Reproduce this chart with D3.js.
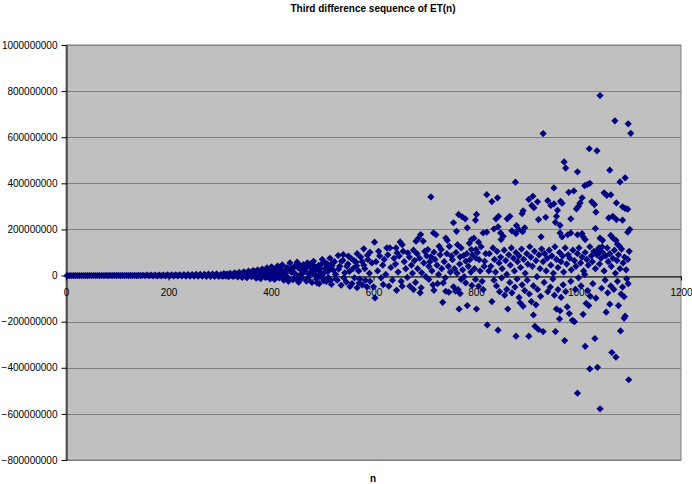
<!DOCTYPE html>
<html>
<head>
<meta charset="utf-8">
<script src="https://cdn.jsdelivr.net/npm/d3@7"></script>
<style>
  body { margin: 0; background: #fff; }
  text { font-family: "Liberation Sans", Arial, sans-serif; }
</style>
</head>
<body>
<script>
// values are in millions
const lowBand = [
  [2,0],[6,0],[10,0.1],[14,0],[18,-0.1],[22,0.1],[26,0],[30,0.1],[34,-0.1],[38,0.1],[42,0],[46,0.2],
  [50,-0.1],[54,0.2],[58,-0.1],[62,0.3],[66,-0.1],[70,0.3],[74,-0.2],[78,0.4],[82,-0.2],[86,0.5],
  [90,-0.3],[94,0.5],[98,-0.3],[102,0.6],[106,-0.4],[110,0.7],[114,-0.4],[118,0.8],[122,-0.5],
  [126,0.9],[130,-0.5],[134,1],[138,-0.6],[142,1.1],[146,-0.7],[150,1.3],[154,-0.8],[158,1.5],
  [162,-0.9],[166,1.7],[170,-1],[174,1.9],[178,-1.1],[182,2.1],[186,-1.2],[190,2.3],[194,-1.3],
  [198,2.6],[202,-1.5],[206,2.9],[210,-1.6],[214,3.2],[218,-1.8],[222,3.5],[226,-2],[230,3.8],
  [234,-2.2],[238,4.1],[242,-2.4],[246,4.5],[250,-2.6],[254,4.9],[258,-2.8],[262,5.3],[266,-3],
  [270,5.7],[274,-3.3],[278,6.1],[282,-3.5],[286,6.5],[290,-3.8],[294,7],[298,-4]
];

const midBand = [
  [302,4],[305,-3],[308,8],[311,-2],[314,6],[317,-5],[320,10],[323,1],[326,-4],[329,12],[332,3],
  [335,-6],[338,14],[341,5],[344,-8],[347,16],[350,2],[353,-9],[356,19],[359,7],[362,-5],[365,22],
  [368,9],[371,-11],[374,25],[377,4],[380,-13],[383,28],[386,12],[389,-8],[392,33],[395,15],
  [398,-14],[401,38],[404,6],[407,-17],[410,24],[413,41],[416,-10],[419,18],[422,46],[425,-20],
  [428,9],[431,35],[434,-25],[437,55],[440,14],[443,-18],[446,40],[449,3],[451,58],[454,-29],
  [457,27],[460,-12],[463,48],[466,19],[469,-24],[471,55],[474,6],[477,35],[480,-30],[483,62],
  [486,22],[489,-15],[490,-32],[493,44],[494,-35],[497,10],[500,70],[503,-22],[506,31],[509,52],
  [512,-8],[515,75],[518,-38],[521,24],[524,60],[527,-14],[529,-20],[531,87],[534,40],[537,-42],
  [540,66],[541,91],[544,12],[547,-28],[550,50],[551,84],[554,-47],[557,73],[560,30],[563,-10],
  [566,58],[568,95],[568,-53],[571,20],[572,-32],[575,80],[578,-40],[581,116],[581,45],[584,-20],
  [587,-49],[589,70],[592,10],
  [402,15],[408,28],[412,-5],[418,33],[424,10],[430,-12],[436,22],[442,30],[448,-8],[452,36],
  [458,5],[462,25],[468,42],[472,-18],[478,16],[482,38],[488,0],[492,26],[498,48],[502,8],
  [508,-26],[514,35],[520,55],[526,5],[532,28],[538,62],[542,-10],[548,40],[553,18],[558,-35],
  [562,65],[567,42],[573,-15],[578,60],[583,30],[588,88],[593,-25],[597,55],
  [340,-2],[346,9],[352,-5],[358,12],[364,1],[370,16],[376,-7],[382,18],[388,-3],[394,24],
  [303,1],[307,-1],[310,3],[313,0],[316,4],[319,-2],[322,5],[325,2],[328,-1],[331,7],[334,0],
  [337,8],[343,3],[349,11],[355,4],[361,13],[367,-2],[373,10],[379,20],[385,3],[391,-6],[397,9],
  [400,27],[406,-4],[411,12],[415,30],[421,2],[427,22],[433,-9],[439,31],[445,12],[450,-16],
  [456,44],[461,8],[467,30],[473,-8],[476,50],[481,10],[485,40],[491,-5],[496,30],[501,-12],
  [505,55],[511,18],[516,-20],[519,42]
];

const cloudLeft = [
  [602,145],[600,-49],[603,-97],[593,101],[610,105],[626,120],[632,120],[644,120],[646,98],
  [652,146],[656,134],[658,105],[667,98],[678,110],[685,95],[683,149],[688,163],[692,178],
  [697,149],[700,105],[706,113],[712,81],[717,185],[718,101],[722,177],[728,127],[732,113],
  [741,163],[744,153],[748,127],[754,69],[756,229],[762,192],[764,134],[766,265],[769,81],
  [773,255],[776,87],[779,246],[780,62],[783,207],[788,69],[791,156],[791,113],[796,162],
  [799,240],[800,113],[800,75],[801,265],[805,145],[806,69],[814,185],[817,62],[821,188],
  [712,341],[630,-46],[718,-64],[735,-116],[725,-35],[736,-32],[741,-68],[747,-72],[756,-49],
  [760,-68],[765,-61],[769,-78],[767,-145],[783,-130],[801,-145],[619,-39],[645,-64],[656,-46],
  [671,-46],[678,-61],[693,-53],[691,-75],[771,-17],[780,-32],[792,-43],[799,-17],[805,-46],
  [814,-61],[708,-17],
  [605,60],[608,20],[612,85],[615,-10],[618,45],[621,70],[624,5],[628,90],[634,35],[637,-20],
  [640,75],[643,50],[648,15],[650,85],[654,-25],[660,60],[663,30],[666,-8],[670,80],[674,45],
  [676,10],[680,65],[682,-30],[686,30],[690,75],[694,12],[698,55],[702,-5],[704,85],[708,40],
  [710,60],[714,20],[716,-40],[720,70],[724,45],[727,5],[730,90],[733,30],[738,60],[740,-10],
  [743,95],[746,40],[750,15],[752,85],[758,30],[761,100],[763,10],[768,50],[771,120],[774,25],
  [777,-5],[782,95],[785,40],[787,140],[790,15],[793,90],[797,30],[803,100],[808,20],[810,125],
  [812,-25],[816,40],[819,95],[825,20]
];

const cloudRight = [
  [1042,781],[1071,671],[1097,658],[1102,617],[931,616],[1021,550],[1036,541],[972,493],[975,466],
  [998,450],[1061,457],[1091,424],[1081,406],[877,405],[952,380],[1022,400],[1017,395],[1012,390],
  [981,361],[991,367],[821,351],[831,321],[842,337],[1050,359],[1055,348],[1063,350],[903,330],
  [911,344],[920,320],[913,294],[909,304],[940,325],[946,304],[952,311],[965,322],[968,314],
  [1007,337],[1003,315],[1000,301],[996,289],[1026,320],[1031,308],[1034,275],[1074,315],
  [1086,298],[1091,291],[1096,288],[892,281],[890,269],[959,283],[957,257],[955,231],[964,218],
  [922,243],[936,253],[927,168],[839,246],[844,257],[861,246],[866,257],[835,202],[843,211],
  [848,185],[853,170],[849,156],[895,207],[891,190],[879,217],[870,194],[878,182],[883,200],
  [985,246],[985,185],[979,177],[998,177],[1007,182],[1009,168],[1013,156],[1033,204],[1042,162],
  [1047,153],[1063,174],[1068,161],[1073,153],[1076,136],[1080,127],[1059,250],[1067,257],
  [1074,243],[1086,240],[1100,200],[1096,188],[964,185],[968,168],
  [826,95],[829,40],[833,120],[836,70],[838,15],[841,105],[845,55],[848,80],[851,30],[855,110],
  [858,65],[860,5],[864,90],[867,45],[869,120],[873,75],[875,20],[878,100],[881,60],[884,85],
  [887,35],[889,115],[893,70],[896,10],[899,95],[901,50],[905,125],[907,80],[910,40],[914,105],
  [917,65],[919,-5],[923,90],[925,30],[928,115],[931,60],[934,95],[937,20],[939,75],[943,110],
  [946,45],[948,85],[951,10],[954,125],[957,70],[960,35],[963,100],[966,60],[969,85],[971,15],
  [974,120],[977,50],[980,90],[983,75],[986,25],[989,110],[992,65],[995,40],[998,95],[1001,120],
  [1004,55],[1007,80],[1010,20],[1013,100],[1016,70],[1019,45],[1022,125],[1025,85],[1027,60],
  [1030,105],[1033,30],[1036,90],[1039,115],[1041,50],[1044,75],[1047,100],[1050,20],[1053,85],
  [1056,120],[1058,60],[1061,95],[1064,40],[1067,75],[1070,110],[1072,10],[1075,65],[1078,90],
  [1081,30],[1084,115],[1087,55],[1090,80],[1093,25],[1096,70],[1099,105],
  [1040,120],[1043,105],[1046,125],[1038,95],
  [822,-214],[843,-237],[878,-263],[903,-263],[922,-234],[931,-243],[955,-243],[973,-282],
  [1013,-307],[1032,-273],[1082,-240],[1065,-334],[1073,-354],[1022,-405],[1037,-398],[1098,-452],
  [998,-510],[1042,-578],[831,-113],[886,-118],[892,-133],[862,-145],[908,-113],[917,-127],
  [912,-171],[915,-220],[960,-61],[966,-95],[957,-145],[964,-153],[963,-188],[978,-136],[982,-165],
  [988,-194],[992,-200],[1009,-168],[1015,-121],[1020,-130],[1023,-90],[1034,-98],[1054,-159],
  [1061,-124],[1078,-130],[1089,-92],[1091,-176],[1089,-185],[1094,-14],
  [835,-20],[840,-45],[846,-70],[850,-10],[856,-85],[860,-60],[866,-30],[870,-75],[876,-50],
  [880,-15],[884,-95],[890,-40],[895,-65],[900,-20],[904,-80],[912,-45],[920,-60],[926,-90],
  [933,-30],[940,-70],[945,-50],[950,-15],[953,-85],[970,-40],[975,-70],[985,-25],[994,-60],
  [1000,-10],[1005,-45],[1012,5],[1018,-65],[1028,-35],[1045,-55],[1052,-20],[1057,-75],
  [1063,-45],[1069,-60],[1076,-25],[1083,-80],[1086,-50],[1097,-35]
];

const xTicks = [0, 200, 400, 600, 800, 1000, 1200];
const yTicks = [-800000000, -600000000, -400000000, -200000000, 0,
                200000000, 400000000, 600000000, 800000000, 1000000000];

const WIDTH = 692, HEIGHT = 484;
const plot = {left: 66, right: 681, top: 45, bottom: 460};

const svg = d3.select("body").append("svg")
  .attr("width", WIDTH).attr("height", HEIGHT);

const x = d3.scaleLinear().domain([0, 1200]).range([plot.left, plot.right]);
const y = d3.scaleLinear().domain([-800000000, 1000000000]).range([plot.bottom, plot.top]);

// plot background
svg.append("rect")
  .attr("x", plot.left).attr("y", plot.top)
  .attr("width", plot.right - plot.left).attr("height", plot.bottom - plot.top)
  .attr("fill", "#c0c0c0")
  .attr("stroke", "#808080");

// gridlines
svg.append("g").selectAll("line")
  .data(yTicks)
  .join("line")
  .attr("x1", plot.left).attr("x2", plot.right)
  .attr("y1", d => Math.round(y(d)) + 0.5).attr("y2", d => Math.round(y(d)) + 0.5)
  .attr("stroke", "#808080");

// y axis
const yAxis = svg.append("g")
  .attr("transform", "translate(" + (plot.left + 0.5) + ",0)")
  .call(d3.axisLeft(y).tickValues(yTicks).tickFormat(d3.format("d")).tickSize(5).tickPadding(4).tickSizeOuter(0));
yAxis.select(".domain").attr("stroke", "#000");
yAxis.selectAll("text").attr("font-size", 10).attr("fill", "#000");

// x axis crossing at 0
const xAxis = svg.append("g")
  .attr("transform", "translate(0," + (Math.round(y(0)) + 0.5) + ")")
  .call(d3.axisBottom(x).tickValues(xTicks).tickFormat(d3.format("d")).tickSize(4).tickPadding(8).tickSizeOuter(0));
xAxis.select(".domain").attr("stroke", "#000");
xAxis.selectAll("text").attr("font-size", 10).attr("fill", "#000");

// points
const diamond = "M0,-3.6L3.6,0L0,3.6L-3.6,0Z";
const allPoints = lowBand.concat(midBand, cloudLeft, cloudRight);
svg.append("g").selectAll("path")
  .data(allPoints)
  .join("path")
  .attr("d", diamond)
  .attr("transform", d => "translate(" + x(d[0]) + "," + y(d[1] * 1e6) + ")")
  .attr("fill", "#000080");

// title and axis label
svg.append("text")
  .attr("x", 373).attr("y", 12)
  .attr("text-anchor", "middle")
  .attr("font-size", 10).attr("font-weight", "bold")
  .text("Third difference sequence of ET(n)");

svg.append("text")
  .attr("x", 373).attr("y", 482)
  .attr("text-anchor", "middle")
  .attr("font-size", 10).attr("font-weight", "bold")
  .text("n");
</script>
</body>
</html>
